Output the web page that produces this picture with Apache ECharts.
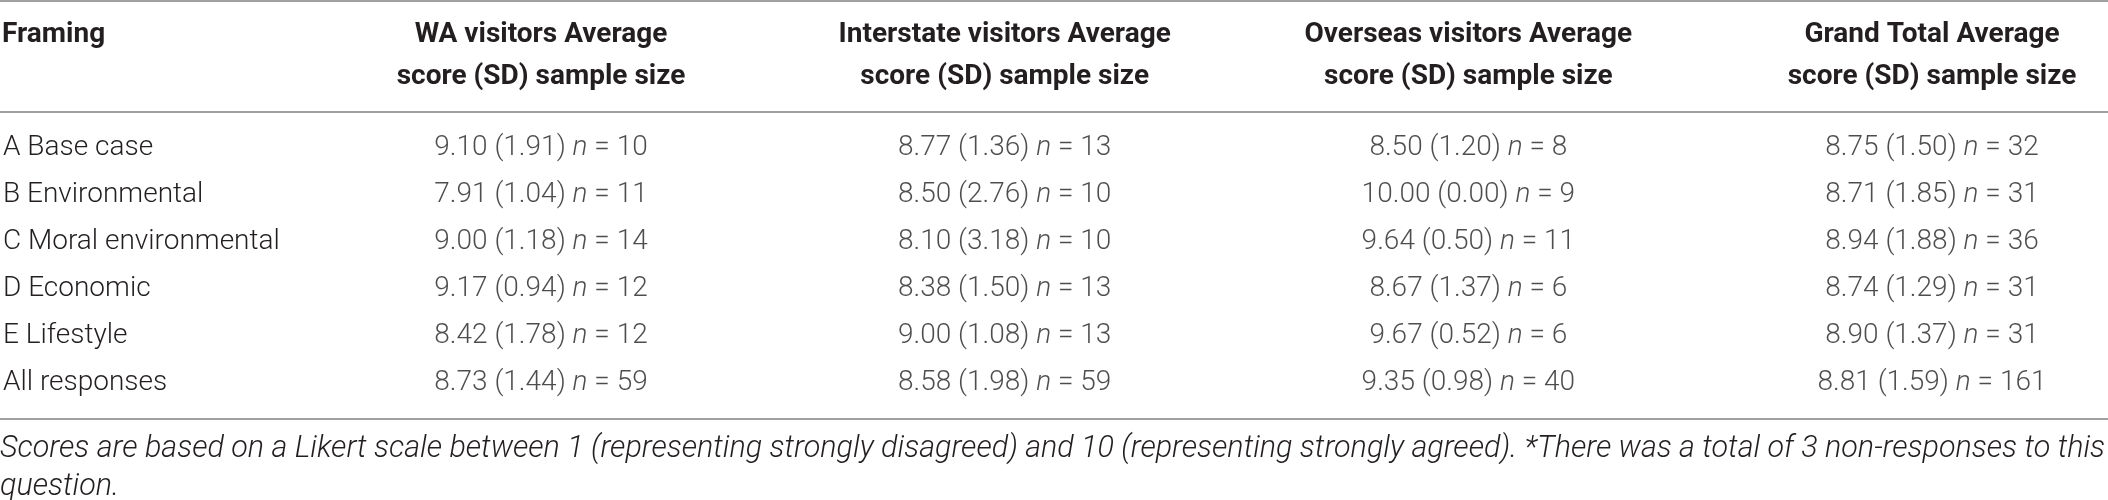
<!DOCTYPE html>
<html>
<head>
<meta charset="utf-8">
<script src="https://cdn.jsdelivr.net/npm/echarts@6/dist/echarts.min.js"></script>
<style>
html,body{margin:0;padding:0;background:#fff;}
#c{width:2108px;height:500px;}
</style>
</head>
<body>
<div id="c"></div>
<script>
const framings = ['A Base case', 'B Environmental', 'C Moral environmental', 'D Economic', 'E Lifestyle', 'All responses'];
const columnHeaders = [
  'WA visitors Average\nscore (SD) sample size',
  'Interstate visitors Average\nscore (SD) sample size',
  'Overseas visitors Average\nscore (SD) sample size',
  'Grand Total Average\nscore (SD) sample size'
];
const waMean = [9.10, 7.91, 9.00, 9.17, 8.42, 8.73];
const waSD = [1.91, 1.04, 1.18, 0.94, 1.78, 1.44];
const waN = [10, 11, 14, 12, 12, 59];
const interMean = [8.77, 8.50, 8.10, 8.38, 9.00, 8.58];
const interSD = [1.36, 2.76, 3.18, 1.50, 1.08, 1.98];
const interN = [13, 10, 10, 13, 13, 59];
const overMean = [8.50, 10.00, 9.64, 8.67, 9.67, 9.35];
const overSD = [1.20, 0.00, 0.50, 1.37, 0.52, 0.98];
const overN = [8, 9, 11, 6, 6, 40];
const totalMean = [8.75, 8.71, 8.94, 8.74, 8.90, 8.81];
const totalSD = [1.50, 1.85, 1.88, 1.29, 1.37, 1.59];
const totalN = [32, 31, 36, 31, 31, 161];
const footnote = 'Scores are based on a Likert scale between 1 (representing strongly disagreed) and 10 (representing strongly agreed). *There was a total of 3 non-responses to this\nquestion.';

const FONT = 'Roboto, "Liberation Sans", Arial, sans-serif';
const TXT = '#231f20';
const RULE = '#a0a0a0';

const groups = [
  [waMean, waSD, waN],
  [interMean, interSD, interN],
  [overMean, overSD, overN],
  [totalMean, totalSD, totalN]
];

const series = groups.map(function (g, ci) {
  return {
    type: 'scatter',
    symbolSize: 2,
    itemStyle: { color: 'rgba(255,255,255,0)' },
    silent: true,
    data: framings.map(function (f, ri) {
      return [ci, ri, g[0][ri], g[1][ri], g[2][ri]];
    }),
    label: {
      show: true,
      position: 'inside',
      formatter: function (p) {
        const v = p.value;
        return '{v|' + v[2].toFixed(2) + ' (' + v[3].toFixed(2) + ') }{i|n}{v| = ' + v[4] + '}';
      },
      rich: {
        v: { fontFamily: FONT, fontSize: 28, fontWeight: 300, color: TXT },
        i: { fontFamily: FONT, fontSize: 28, fontWeight: 300, fontStyle: 'italic', color: TXT }
      }
    }
  };
});

const chart = echarts.init(document.getElementById('c'), null, { renderer: 'canvas' });
chart.setOption({
  animation: false,
  backgroundColor: '#ffffff',
  title: [
    {
      text: 'Framing',
      left: 2, top: 14, padding: 0,
      textStyle: { fontFamily: FONT, fontSize: 28, fontWeight: 'bold', color: TXT, lineHeight: 42 }
    },
    {
      text: footnote,
      left: 0, top: 430, padding: 0,
      textStyle: { fontFamily: FONT, fontSize: 30.5, fontWeight: 300, fontStyle: 'italic', color: TXT, lineHeight: 38 }
    }
  ],
  grid: { left: 540, right: 176, top: 148, bottom: 117, containLabel: false },
  xAxis: {
    type: 'category',
    position: 'top',
    data: columnHeaders,
    boundaryGap: false,
    axisLine: { show: false },
    axisTick: { show: false },
    splitLine: { show: false },
    axisLabel: {
      interval: 0,
      margin: 50,
      fontFamily: FONT,
      fontSize: 28,
      fontWeight: 'bold',
      color: TXT,
      lineHeight: 42,
      align: 'center'
    }
  },
  yAxis: {
    type: 'category',
    inverse: true,
    data: framings,
    boundaryGap: false,
    axisLine: { show: false },
    axisTick: { show: false },
    splitLine: { show: false },
    axisLabel: {
      interval: 0,
      margin: 538,
      align: 'left',
      fontFamily: FONT,
      fontSize: 28,
      fontWeight: 300,
      color: TXT
    }
  },
  graphic: [
    { type: 'line', shape: { x1: 0, y1: 1, x2: 2108, y2: 1 }, style: { stroke: RULE, lineWidth: 2 } },
    { type: 'line', shape: { x1: 0, y1: 112, x2: 2108, y2: 112 }, style: { stroke: RULE, lineWidth: 2 } },
    { type: 'line', shape: { x1: 0, y1: 419, x2: 2108, y2: 419 }, style: { stroke: RULE, lineWidth: 2 } }
  ],
  series: series
});
</script>
</body>
</html>
